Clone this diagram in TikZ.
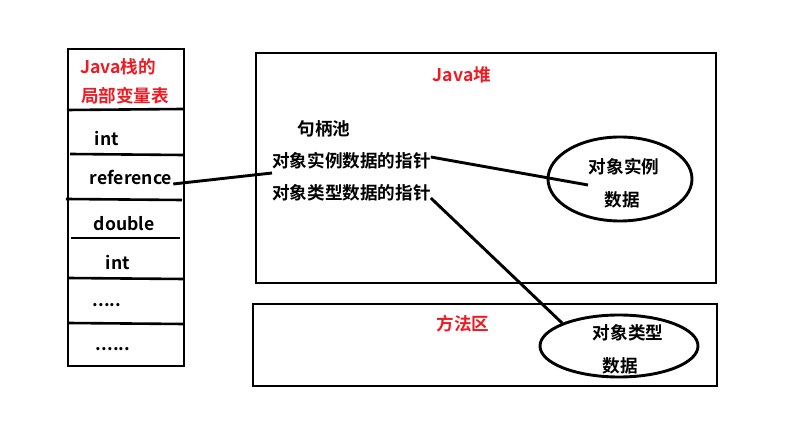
\documentclass[tikz,border=0pt]{standalone}
\usepackage{fontspec}
\setmainfont{Noto Sans CJK SC Bold}
\usetikzlibrary{shapes.geometric}
\definecolor{pred}{RGB}{237,28,36}
\tikzset{
  lbl/.style={inner sep=0pt, font=\fontsize{17.6}{20}\selectfont},
  rlbl/.style={lbl, text=pred},
  ln/.style={line width=2.9pt},
  cell/.style={line width=2.6pt},
  oval/.style={draw, ellipse, line width=2.9pt, inner sep=0pt}
}
\begin{document}
\begin{tikzpicture}[x=1pt,y=-1pt]
\useasboundingbox (0,0) rectangle (806,446);
% stack
\draw[ln] (68,49) rectangle (184,366);
\draw[cell] (67,110) -- (183,109);
\draw[cell] (70,154) -- (183,155);
\draw[cell] (66,199) -- (182,200);
\draw[cell] (71,238) -- (180,238);
\draw[cell] (68,278) -- (184,279);
\draw[cell] (68,323) -- (184,324);
\node[rlbl] (st1) at (118,67) {Java栈的};
\node[rlbl] (st2) at (125,96) {局部变量表};
\node[lbl] (c1) at (107,138) {int};
\node[lbl] (c2) at (131,177) {reference};
\node[lbl] (c3) at (124,224) {double};
\node[lbl] (c4) at (118,262) {int};
\node[lbl] (c5) at (107,305) {.....};
\node[lbl] (c6) at (113,349) {......};
% heap
\draw[ln] (256,53) rectangle (716,283);
\node[rlbl] (heap) at (462,75) {Java堆};
\node[lbl] (pool) at (324,129) {句柄池};
\node[lbl,anchor=west] (p1) at (272,161) {对象实例数据的指针};
\node[lbl,anchor=west] (p2) at (272,193) {对象类型数据的指针};
\node[oval, minimum width=144, minimum height=84] (e1) at (620,179) {};
\node[lbl] (e1a) at (624,167) {对象实例};
\node[lbl] (e1b) at (622,200) {数据};
\coordinate (e1end) at (588,185);
% method area
\draw[ln] (253,304) rectangle (717,386);
\node[rlbl] (ma) at (463,324) {方法区};
\node[oval, minimum width=158, minimum height=62] (e2) at (619,346) {};
\node[lbl] (e2a) at (628,333) {对象类型};
\node[lbl] (e2b) at (620,366) {数据};
% connectors
\draw[ln] ([xshift=1pt,yshift=-7pt]c2.east) -- ([yshift=-12pt]p1.west);
\draw[ln] ([yshift=4pt]p1.east) -- (e1end);
\draw[ln] ([yshift=-5pt]p2.east) -- (e2.north west);
\end{tikzpicture}
\end{document}
